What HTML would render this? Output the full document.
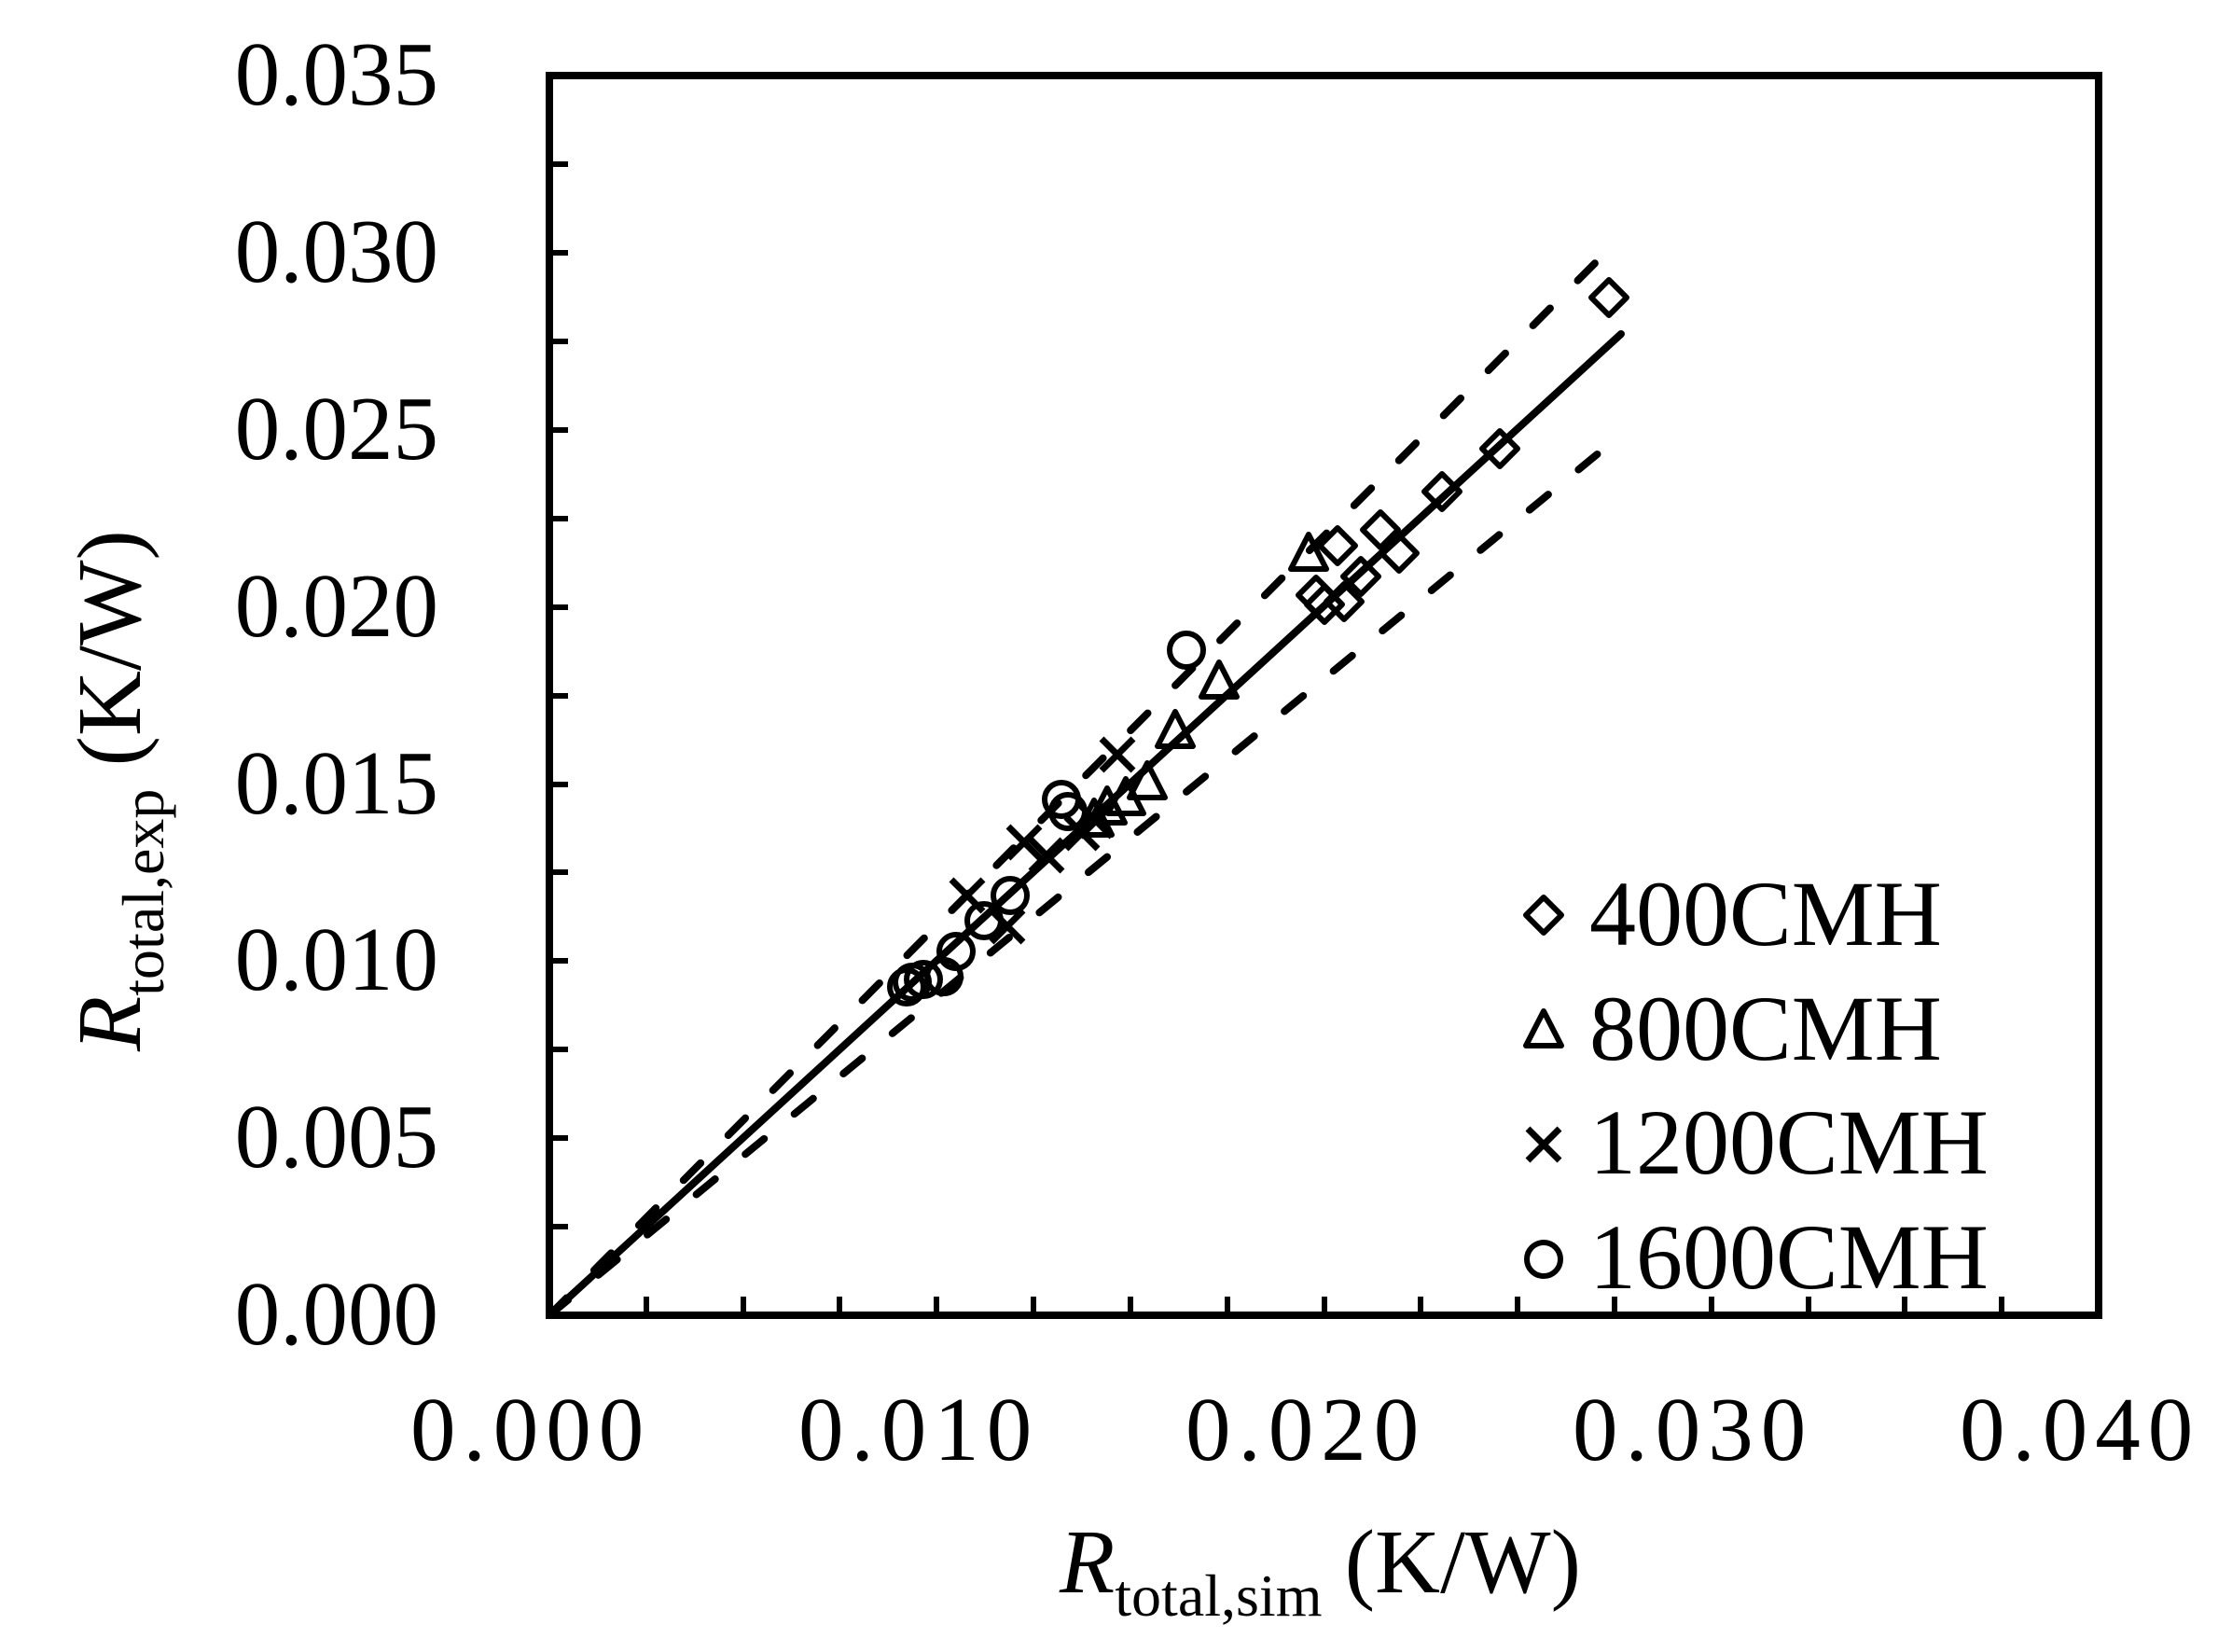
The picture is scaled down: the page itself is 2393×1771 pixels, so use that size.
<!DOCTYPE html>
<html><head><meta charset="utf-8"><style>
html,body{margin:0;padding:0;background:#fff;}
svg{display:block;}
text{font-family:"Liberation Serif",serif;fill:#000;}
</style></head><body>
<svg width="2393" height="1771" viewBox="0 0 2393 1771" xmlns="http://www.w3.org/2000/svg">
<rect width="2393" height="1771" fill="#fff"/>
<rect x="589" y="81" width="1661" height="1329" fill="none" stroke="#000" stroke-width="8"/>
<g stroke="#000" stroke-width="6">
<line x1="693" y1="1410" x2="693" y2="1390"/><line x1="797" y1="1410" x2="797" y2="1390"/><line x1="900" y1="1410" x2="900" y2="1390"/><line x1="1004" y1="1410" x2="1004" y2="1390"/>
<line x1="1108" y1="1410" x2="1108" y2="1390"/><line x1="1212" y1="1410" x2="1212" y2="1390"/><line x1="1316" y1="1410" x2="1316" y2="1390"/><line x1="1420" y1="1410" x2="1420" y2="1390"/>
<line x1="1523" y1="1410" x2="1523" y2="1390"/><line x1="1627" y1="1410" x2="1627" y2="1390"/><line x1="1731" y1="1410" x2="1731" y2="1390"/><line x1="1835" y1="1410" x2="1835" y2="1390"/>
<line x1="1939" y1="1410" x2="1939" y2="1390"/><line x1="2042" y1="1410" x2="2042" y2="1390"/><line x1="2146" y1="1410" x2="2146" y2="1390"/>
<line x1="589" y1="1315" x2="609" y2="1315"/><line x1="589" y1="1220" x2="609" y2="1220"/><line x1="589" y1="1125" x2="609" y2="1125"/><line x1="589" y1="1030" x2="609" y2="1030"/>
<line x1="589" y1="935" x2="609" y2="935"/><line x1="589" y1="841" x2="609" y2="841"/><line x1="589" y1="746" x2="609" y2="746"/><line x1="589" y1="651" x2="609" y2="651"/>
<line x1="589" y1="556" x2="609" y2="556"/><line x1="589" y1="461" x2="609" y2="461"/><line x1="589" y1="366" x2="609" y2="366"/><line x1="589" y1="271" x2="609" y2="271"/>
<line x1="589" y1="176" x2="609" y2="176"/>
</g>
<g font-size="97" text-anchor="end">
<text x="470" y="1441">0.000</text>
<text x="470" y="1251">0.005</text>
<text x="470" y="1061">0.010</text>
<text x="470" y="872">0.015</text>
<text x="470" y="682">0.020</text>
<text x="470" y="492">0.025</text>
<text x="470" y="302">0.030</text>
<text x="470" y="112">0.035</text>
</g>
<g font-size="97" letter-spacing="8">
<text x="440" y="1565">0.000</text>
<text x="856" y="1565">0.010</text>
<text x="1271" y="1565">0.020</text>
<text x="1686" y="1565">0.030</text>
<text x="2101" y="1565">0.040</text>
</g>
<text x="1136" y="1707" font-size="97"><tspan font-style="italic">R</tspan><tspan font-size="64" dy="25">total,sim</tspan><tspan dy="-25"> (K/W)</tspan></text>
<text transform="translate(150,1127) rotate(-90)" font-size="97"><tspan font-style="italic">R</tspan><tspan font-size="64" dy="25">total,exp</tspan><tspan dy="-25"> (K/W)</tspan></text>
<line x1="589" y1="1410" x2="1738" y2="358" stroke="#000" stroke-width="8" stroke-linecap="round"/>
<line x1="589" y1="1410" x2="1727" y2="265" stroke="#000" stroke-width="8" stroke-linecap="round" stroke-dasharray="26 42"/>
<line x1="589" y1="1410" x2="1727" y2="475" stroke="#000" stroke-width="8" stroke-linecap="round" stroke-dasharray="26 42"/>
<defs>
<path id="dia" d="M0,-19 L19,0 L0,19 L-19,0 Z" fill="none" stroke="#000" stroke-width="6" stroke-linejoin="round"/>
<path id="tri" d="M0,-22 L19,15 L-19,15 Z" fill="none" stroke="#000" stroke-width="6" stroke-linejoin="round"/>
<path id="crs" d="M-17,-17 L17,17 M-17,17 L17,-17" fill="none" stroke="#000" stroke-width="7"/>
<circle id="cir" r="18" fill="none" stroke="#000" stroke-width="6"/>
</defs>
<use href="#dia" x="1725" y="319"/><use href="#dia" x="1608" y="481"/><use href="#dia" x="1546" y="527"/>
<use href="#dia" x="1480" y="568"/><use href="#dia" x="1500" y="593"/><use href="#dia" x="1434" y="585"/>
<use href="#dia" x="1459" y="618"/><use href="#dia" x="1411" y="638"/><use href="#dia" x="1441" y="645"/><use href="#dia" x="1420" y="648"/>
<use href="#tri" x="1403" y="595"/><use href="#tri" x="1307" y="732"/><use href="#tri" x="1260" y="785"/>
<use href="#tri" x="1230" y="840"/><use href="#tri" x="1207" y="857"/><use href="#tri" x="1187" y="867"/><use href="#tri" x="1173" y="880"/>
<use href="#crs" x="1198" y="809"/><use href="#crs" x="1122" y="917"/><use href="#crs" x="1098" y="903"/>
<use href="#crs" x="1037" y="960"/><use href="#crs" x="1080" y="993"/><use href="#crs" x="1160" y="893"/><use href="#crs" x="1175" y="880"/>
<use href="#cir" x="1272" y="697"/><use href="#cir" x="1138" y="857"/><use href="#cir" x="1145" y="870"/>
<use href="#cir" x="1083" y="960"/><use href="#cir" x="1055" y="987"/><use href="#cir" x="1025" y="1020"/>
<use href="#cir" x="1012" y="1047"/><use href="#cir" x="978" y="1053"/><use href="#cir" x="972" y="1058"/><use href="#cir" x="990" y="1050"/>
<use href="#dia" x="1655" y="981"/>
<use href="#tri" x="1655" y="1106"/>
<use href="#crs" x="1655" y="1227"/>
<use href="#cir" x="1655" y="1350"/>
<g font-size="100">
<text x="1704" y="1013">400CMH</text>
<text x="1704" y="1136">800CMH</text>
<text x="1704" y="1258">1200CMH</text>
<text x="1704" y="1381">1600CMH</text>
</g>
</svg>
</body></html>
